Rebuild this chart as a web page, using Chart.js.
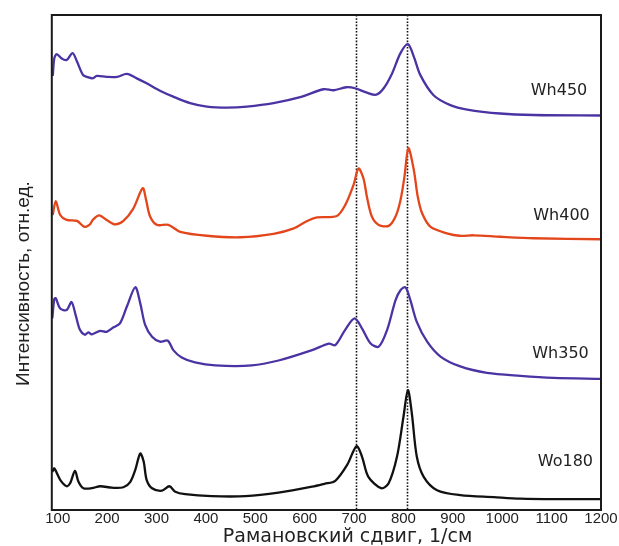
<!DOCTYPE html>
<html>
<head>
<meta charset="utf-8">
<script src="https://cdn.jsdelivr.net/npm/chart.js@4"></script>
<style>
  html, body { margin: 0; padding: 0; background: #fff; }
  #wrap { width: 619px; height: 546px; }
</style>
</head>
<body>
<div id="wrap"><canvas id="ramanCanvas"></canvas></div>
<script>
// raman shift, 1/cm  and  intensity (arb. units, curves offset)
const wo180X = [89, 93, 105, 118, 125, 135, 142, 152, 169, 186, 210, 233, 247, 257, 267, 274, 280, 291, 311, 326, 338, 358, 412, 480, 547, 615, 640, 662, 686, 705, 716, 729, 755, 770, 787, 800, 809, 817, 827, 841, 868, 915, 983, 1037, 1110, 1200];
const wo180Y = [7.7, 8.4, 6.1, 4.8, 5.4, 7.9, 5.7, 4.4, 4.4, 4.8, 4.5, 4.6, 5.7, 8.1, 11.4, 9.8, 6.1, 4.4, 3.9, 4.8, 3.7, 3.2, 2.8, 2.8, 3.5, 4.7, 5.3, 5.9, 9.1, 12.9, 10.8, 6.7, 4.4, 5.4, 10.8, 18.8, 24.2, 19.5, 10.8, 6.7, 4.0, 3.0, 2.6, 2.3, 2.2, 2.2];

const wh350X = [89, 93, 96, 105, 118, 128, 137, 145, 155, 162, 169, 186, 199, 213, 226, 240, 257, 267, 277, 291, 307, 323, 334, 351, 378, 419, 493, 547, 615, 649, 662, 682, 701, 716, 733, 750, 767, 784, 794, 804, 814, 827, 848, 875, 915, 969, 1037, 1104, 1200];
const wh350Y = [38.7, 42.6, 42.8, 40.7, 40.4, 42.0, 39.1, 36.4, 35.4, 35.9, 35.5, 36.2, 36.0, 36.9, 37.7, 41.1, 45.0, 41.8, 37.4, 35.0, 34.0, 34.2, 32.3, 30.8, 29.8, 29.2, 29.2, 30.2, 32.3, 33.6, 33.3, 36.4, 38.7, 36.7, 33.7, 33.0, 36.4, 42.4, 44.4, 45.0, 42.4, 38.0, 34.0, 31.0, 29.0, 27.7, 27.1, 26.7, 26.5];

const wh400X = [90, 96, 105, 118, 139, 154, 164, 172, 184, 199, 216, 233, 253, 272, 279, 287, 301, 324, 348, 402, 470, 537, 578, 605, 625, 665, 682, 699, 709, 719, 726, 736, 750, 770, 784, 794, 802, 810, 821, 829, 838, 855, 888, 914, 942, 996, 1064, 1200];
const wh400Y = [59.6, 62.4, 59.6, 58.6, 58.4, 57.2, 57.6, 58.7, 59.5, 58.6, 57.7, 58.4, 60.9, 65.0, 62.6, 59.3, 57.6, 57.6, 56.2, 55.4, 55.1, 55.8, 56.9, 58.4, 59.1, 59.4, 61.6, 65.7, 69.0, 67.0, 63.3, 59.3, 57.6, 57.4, 59.3, 62.6, 67.3, 73.1, 68.7, 63.3, 59.9, 57.2, 55.9, 55.4, 55.5, 55.2, 54.9, 54.7];

const wh450X = [90, 93, 98, 108, 118, 130, 139, 151, 159, 171, 179, 199, 220, 240, 260, 280, 307, 334, 368, 402, 443, 483, 537, 591, 638, 659, 684, 702, 726, 745, 760, 777, 794, 809, 821, 834, 861, 895, 929, 996, 1064, 1200];
const wh450Y = [87.7, 91.2, 92.1, 91.2, 90.9, 92.3, 90.6, 87.9, 87.5, 87.2, 87.7, 87.5, 87.5, 88.1, 87.2, 86.2, 84.7, 83.5, 82.2, 81.5, 81.3, 81.5, 82.2, 83.4, 85.0, 84.8, 85.4, 85.2, 84.3, 83.9, 85.2, 88.2, 92.3, 94.1, 91.6, 87.9, 83.8, 81.8, 80.9, 80.1, 79.8, 79.7];

const xTicks = [100, 200, 300, 400, 500, 600, 700, 800, 900, 1000, 1100, 1200];
const markerLines = [704, 808];

const curveNames = ['Wh450', 'Wh400', 'Wh350', 'Wo180'];
const nameX = [1115, 1120, 1118, 1128];
const nameY = [84.6, 59.5, 31.5, 9.7];

const PURPLE = '#4b33a3';
const RED = '#e4461c';
const BLACK = '#111111';
const PAD = '\u00a0\u00a0\u00a0\u00a0\u00a0\u00a0\u00a0';

function toPoints(xs, ys) {
  return xs.map((x, i) => ({ x: x, y: ys[i] }));
}

function makeSet(label, xs, ys, color) {
  return {
    label: label,
    data: toPoints(xs, ys),
    borderColor: color,
    borderWidth: 2.3,
    pointRadius: 0,
    fill: false,
    tension: 0.3
  };
}

// dotted marker lines, frame box and curve names
const decorPlugin = {
  id: 'decor',
  beforeDatasetsDraw(chart) {
    const { ctx, chartArea, scales } = chart;
    ctx.save();
    ctx.strokeStyle = '#111';
    ctx.lineWidth = 1.6;
    ctx.setLineDash([1.6, 1.6]);
    markerLines.forEach(v => {
      const px = Math.round(scales.x.getPixelForValue(v)) + 0.5;
      ctx.beginPath();
      ctx.moveTo(px, chartArea.top);
      ctx.lineTo(px, chartArea.bottom);
      ctx.stroke();
    });
    ctx.restore();
  },
  afterDraw(chart) {
    const { ctx, chartArea, scales } = chart;
    ctx.save();
    ctx.strokeStyle = '#1a1a1a';
    ctx.lineWidth = 2;
    ctx.strokeRect(chartArea.left, chartArea.top,
      chartArea.right - chartArea.left, chartArea.bottom - chartArea.top);

    ctx.fillStyle = '#222';
    ctx.font = '16px "DejaVu Sans", sans-serif';
    ctx.textAlign = 'center';
    ctx.textBaseline = 'middle';
    curveNames.forEach((name, i) => {
      ctx.fillText(name, scales.x.getPixelForValue(nameX[i]), scales.y.getPixelForValue(nameY[i]));
    });
    ctx.restore();
  }
};

const ctx = document.getElementById('ramanCanvas').getContext('2d');
const chart = new Chart(ctx, {
  type: 'line',
  data: {
    datasets: [
      makeSet('Wh450', wh450X, wh450Y, PURPLE),
      makeSet('Wh400', wh400X, wh400Y, RED),
      makeSet('Wh350', wh350X, wh350Y, PURPLE),
      makeSet('Wo180', wo180X, wo180Y, BLACK)
    ]
  },
  options: {
    responsive: true,
    maintainAspectRatio: false,
    animation: false,
    layout: { padding: { top: 15, right: 18, left: 0, bottom: -1 } },
    plugins: {
      legend: { display: false },
      tooltip: { enabled: false }
    },
    scales: {
      x: {
        type: 'linear',
        min: 88,
        max: 1200,
        afterBuildTicks: axis => { axis.ticks = xTicks.map(v => ({ value: v })); },
        grid: { display: false, drawTicks: false },
        border: { display: false },
        ticks: {
          color: '#222',
          padding: 0,
          maxRotation: 0,
          autoSkip: false,
          font: { family: '"Liberation Sans", Arial, sans-serif', size: 15 },
          callback: v => String(v)
        },
        title: {
          display: true,
          text: PAD + 'Рамановский сдвиг, 1/см',
          color: '#222',
          padding: { top: 0, bottom: 0 },
          font: { family: '"DejaVu Sans", sans-serif', size: 19, lineHeight: 1 }
        }
      },
      y: {
        min: 0,
        max: 100,
        grid: { display: false, drawTicks: false },
        border: { display: false },
        ticks: { display: false },
        title: {
          display: true,
          text: 'Интенсивность, отн.ед.\u00a0\u00a0\u00a0\u00a0\u00a0\u00a0\u00a0\u00a0',
          color: '#222',
          padding: { top: 12, bottom: 17 },
          font: { family: '"Liberation Sans", Arial, sans-serif', size: 19 }
        }
      }
    }
  },
  plugins: [decorPlugin]
});
</script>
</body>
</html>
